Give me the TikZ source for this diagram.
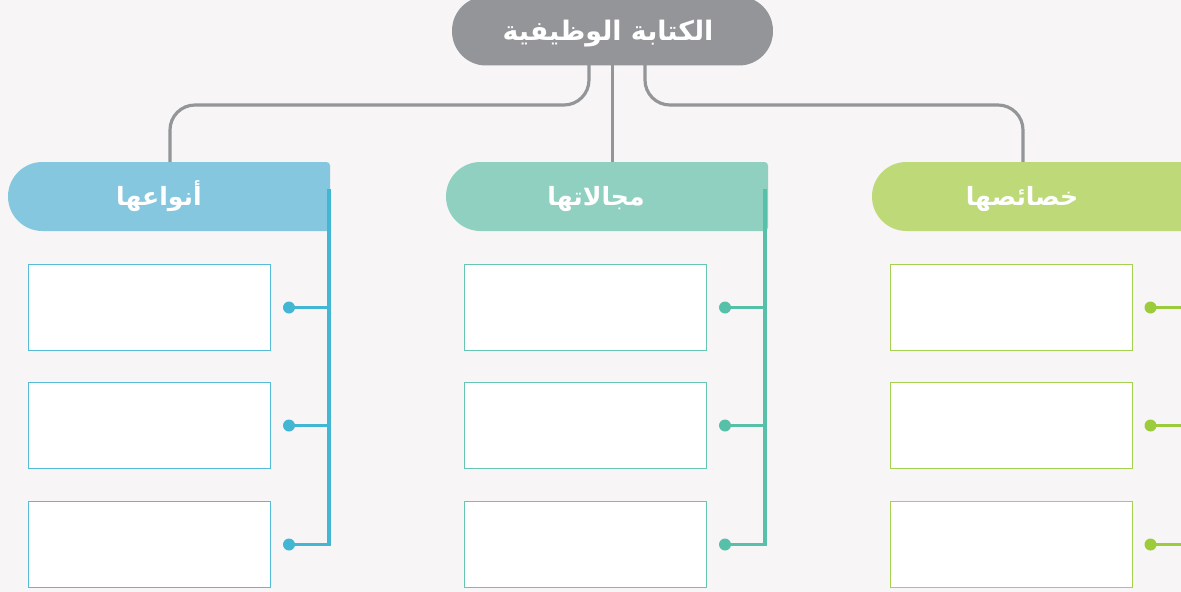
\documentclass[tikz,border=0pt]{standalone}
\usepackage{fontspec}
\usetikzlibrary{calc}
\TeXXeTstate=1
\newfontfamily\arabicfont[Script=Arabic]{DejaVu Sans}
\definecolor{pagebg}{HTML}{F7F5F6}
\definecolor{headgray}{HTML}{939598}
\definecolor{barblue}{HTML}{85C7DE}
\definecolor{lineblue}{HTML}{42B6D2}
\definecolor{barteal}{HTML}{90D0C1}
\definecolor{lineteal}{HTML}{56C0A8}
\definecolor{bargreen}{HTML}{BEDA78}
\definecolor{linegreen}{HTML}{9CCB3B}
\tikzset{
    headbox/.style={fill=headgray,rounded corners=0.68cm,minimum width=6.42cm,minimum height=1.38cm,inner sep=0pt},
    bartext/.style={anchor=base,text=white,font=\arabicfont\bfseries\fontsize{14.3}{17}\selectfont,inner sep=0pt},
    emptybox/.style={draw,fill=white,line width=0.9pt,minimum width=4.84cm,minimum height=1.72cm,inner sep=0pt},
    dotmark/.style={circle,minimum size=0.24cm,inner sep=0pt},
    link/.style={draw=headgray,line width=1.8pt,rounded corners=0.5cm},
    branch/.style={line width=1.8pt,line join=miter}
}

\begin{document}
\begin{tikzpicture}[x=0.02cm,y=-0.02cm]
            \useasboundingbox (0,0) rectangle (1181,592);
            \clip (0,0) rectangle (1181,592);
            \fill[pagebg] (0,0) rectangle (1181,592);

            \coordinate (hl) at (589,60);
            \coordinate (hm) at (612.3,60);
            \coordinate (hr) at (645,60);
            \coordinate (kinds-top) at (170,165);
            \coordinate (fields-top) at (612.3,165);
            \coordinate (traits-top) at (1023,165);

            \draw[link] (hl)--(hl |- 0,105)--(kinds-top |- 0,105)--(kinds-top);
            \draw[link] (hm)--(fields-top);
            \draw[link] (hr)--(hr |- 0,105)--(traits-top |- 0,105)--(traits-top);

            \node[headbox] (head) at (612.5,31){};
            \node[bartext,font=\arabicfont\bfseries\fontsize{15.3}{18}\selectfont] (head-text) at (608,40){\beginR الكتابة الوظيفية\endR};

            \foreach \id/\x/\textx/\bx/\dx/\ex/\barcol/\linecol/\word in {
                kinds/8/159/149.5/289/329/barblue/lineblue/أنواعها,
                fields/446/596/585.5/725/765/barteal/lineteal/مجالاتها,
                traits/872/1022/1011.5/1150.5/1190/bargreen/linegreen/خصائصها}{
                \fill[\barcol] (\x+100,231) [rounded corners=0.69cm] --(\x,231)--(\x,162)--(\x+100,162) [rounded corners=0.07cm] --(\x+322,162)--(\x+322,231)--cycle;
                \node[bartext] (\id-bar) at (\textx,205){\beginR\word\endR};

                \foreach \n/\y in {1/307.5,2/425.5,3/544.5}{
                    \node[emptybox,draw=\linecol!90!white] (\id-box\n) at (\bx,\y){};
                    \node[dotmark,fill=\linecol] (\id-dot\n) at (\dx,\y){};
                    \coordinate (\id-end\n) at (\ex,\y);
                }
                \coordinate (\id-start) at (\ex,189);

                \draw[branch,draw=\linecol] (\id-start)--(\id-end3)--(\id-dot3.center);
                \draw[branch,draw=\linecol] (\id-dot1.center)--(\id-end1);
                \draw[branch,draw=\linecol] (\id-dot2.center)--(\id-end2);
            }
        \end{tikzpicture}
\end{document}
